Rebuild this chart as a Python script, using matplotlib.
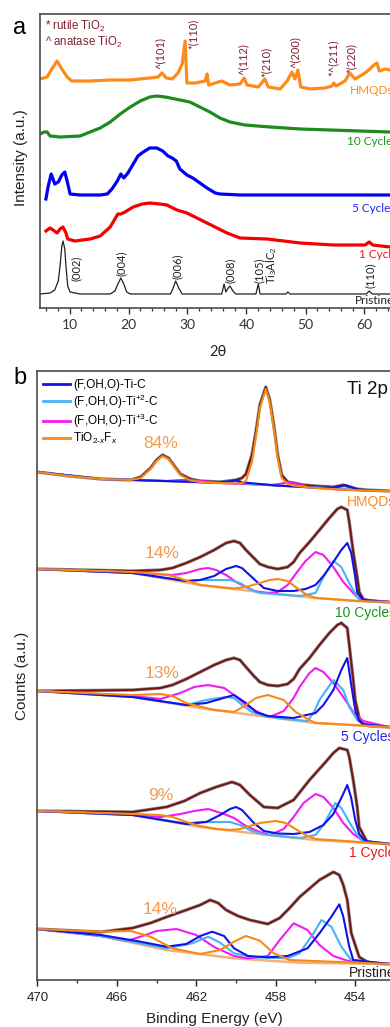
import matplotlib
matplotlib.use("Agg")
import matplotlib.pyplot as plt
from matplotlib.ticker import MultipleLocator, FixedLocator
from matplotlib.lines import Line2D

plt.rcParams['mathtext.fontset'] = 'custom'
plt.rcParams['mathtext.rm'] = 'Liberation Sans'
plt.rcParams['mathtext.it'] = 'Liberation Sans:italic'
plt.rcParams['mathtext.bf'] = 'Liberation Sans:bold'

# ---------------- Panel a: XRD (2theta, intensity a.u.) ----------------
xrd_hmqds_2t = [5.0, 6.2, 7.0, 7.9, 8.7, 9.6, 10.4, 13.5, 16.9, 20.3, 23.6, 25.0, 25.7, 26.4, 27.4,
                28.4, 29.1, 29.6, 29.9, 31.3, 33.0, 33.3, 33.6, 35.8, 37.2, 38.9, 39.6, 40.1, 42.0,
                43.1, 43.7, 45.7, 46.9, 47.7, 48.2, 48.7, 49.2, 50.8, 53.3, 54.5, 54.8, 55.2, 56.7,
                57.5, 58.4, 60.1, 60.9, 61.4, 62.1, 62.5, 63.5, 64.3, 66.0]
xrd_hmqds_int = [229, 231, 239, 247, 239, 231, 227, 227, 228, 228, 230, 231, 235, 230, 229,
                 235, 244, 267, 225, 225, 227, 234, 223, 227, 223, 224, 230, 223, 221,
                 229, 221, 219, 227, 236, 229, 238, 221, 219, 220, 222, 225, 222, 227,
                 235, 229, 235, 239, 242, 245, 237, 239, 238, 237]

xrd_10c_2t = [5.0, 5.7, 6.2, 6.7, 8.4, 11.8, 15.2, 16.9, 18.6, 20.3, 22.0, 23.6, 24.8, 26.2, 27.9,
              30.4, 32.1, 33.8, 35.5, 37.2, 39.7, 44.0, 49.1, 54.2, 59.2, 64.3, 69.4]
xrd_10c_int = [174, 176, 176, 172, 171, 172, 180, 186, 194, 201, 207, 211, 212, 211, 209,
               206, 201, 196, 190, 186, 183, 181, 179, 178, 177, 176, 176]

xrd_5c_2t = [6.0, 6.4, 6.9, 7.2, 7.5, 8.1, 8.7, 9.2, 9.6, 10.1, 11.8, 15.2, 16.4, 17.2, 18.1, 18.7,
             19.2, 19.9, 20.8, 21.6, 22.5, 23.6, 24.8, 25.8, 26.7, 27.4, 28.1, 28.7, 29.9, 30.9,
             32.1, 33.3, 34.7, 35.5, 38.9, 49.1, 64.3, 69.4]
xrd_5c_int = [109, 122, 134, 129, 124, 126, 133, 136, 127, 114, 113, 113, 114, 119, 127, 134,
              130, 135, 144, 152, 156, 160, 160, 157, 152, 150, 147, 139, 133, 130,
              125, 120, 115, 114, 113, 113, 113, 113]

xrd_1c_2t = [6.0, 6.7, 7.2, 7.9, 8.4, 8.9, 9.4, 9.7, 10.9, 13.5, 15.2, 16.9, 18.2, 18.7, 19.4, 20.8,
             22.3, 23.6, 25.3, 26.5, 28.2, 29.9, 31.6, 33.3, 35.0, 36.7, 38.9, 43.5, 49.1, 54.7,
             60.1, 60.8, 61.4, 64.3, 69.4]
xrd_1c_int = [77, 80, 78, 75, 79, 81, 75, 69, 67, 69, 72, 81, 94, 94, 96, 101,
              104, 105, 104, 103, 98, 95, 90, 85, 80, 75, 70, 69, 65, 63,
              63, 66, 63, 61, 60]

xrd_pr_2t = [5.0, 6.7, 7.5, 8.1, 8.4, 8.7, 8.9, 9.2, 9.4, 9.7, 10.1, 11.8, 16.9, 17.7, 18.2, 18.7,
             19.2, 19.7, 20.3, 27.1, 27.5, 28.0, 28.6, 29.1, 35.8, 36.2, 36.5, 36.9, 37.2, 37.7,
             38.2, 41.6, 42.0, 42.3, 46.7, 47.0, 47.4, 60.3, 60.8, 61.3, 69.4]
xrd_pr_int = [14, 15, 18, 27, 42, 62, 67, 59, 42, 22, 16, 14, 14, 17, 24, 30,
              24, 16, 14, 14, 19, 27, 19, 14, 14, 24, 16, 20, 22, 17,
              14, 14, 24, 14, 14, 16, 14, 14, 17, 14, 14]

tio2_peak_labels = ["^(101)", "*(110)", "^(112)", "*(210)", "^(200)", "*^(211)", "*(220)"]
tio2_peak_2t = [25.3, 30.9, 39.4, 43.3, 48.2, 54.7, 57.7]
tio2_peak_int = [239, 259, 233, 231, 240, 232, 235]

max_peak_labels = ["(002)", "(004)", "(006)", "(008)", "(105)", "Ti$_3$AlC$_2$", "(110)"]
max_peak_2t = [11.1, 18.7, 28.2, 37.2, 42.1, 44.2, 60.9]
max_peak_int = [27, 32, 29, 25, 25, 24, 20]

xrd_series_labels = ["HMQDs", "10 Cycles", "5 Cycles", "1 Cycle", "Pristine"]
xrd_label_2t = [57.5, 57.0, 57.9, 59.1, 58.4]
xrd_label_int = [218, 167, 100, 54, 7]

xrd_ticks = [10, 20, 30, 40, 50, 60, 70]

# ---------------- Panel b: XPS Ti 2p (binding energy eV, counts a.u.) ----------------
hmq_env = [(470.0, 508), (468.4, 504), (466.8, 501), (465.3, 500), (464.8, 503), (464.3, 512), (464.0, 520),
           (463.7, 525), (463.4, 522), (463.1, 514), (462.8, 506), (462.3, 501), (461.8, 499), (460.8, 498),
           (460.0, 500), (459.7, 502), (459.5, 506), (459.2, 525), (459.0, 548), (458.8, 575), (458.5, 593),
           (458.3, 580), (458.1, 555), (457.9, 525), (457.7, 505), (457.4, 498), (457.1, 497), (456.6, 495),
           (456.0, 494), (455.1, 493), (454.6, 495), (454.3, 493), (453.9, 491), (453.4, 490), (452.3, 489)]
hmq_bg = [(470.0, 508), (468.4, 504), (466.8, 501), (465.3, 500), (463.8, 499), (462.3, 498), (460.8, 497),
          (459.3, 496), (457.8, 494.5), (456.3, 492.5), (454.8, 490.5), (453.3, 489.3), (452.3, 489)]
hmq_tic = [(470.0, 508), (466.8, 501), (461.2, 497.5), (460.4, 498.5), (460.0, 499.5), (459.6, 497.5),
           (458.0, 494.5), (455.6, 492), (454.9, 493), (454.5, 495), (454.2, 493), (453.8, 490), (452.3, 489)]
hmq_ti2 = [(470.0, 508), (466.8, 501), (461.2, 497.5), (460.6, 498.5), (460.0, 498), (459.5, 496.5),
           (458.0, 494.5), (455.4, 492), (455.0, 493), (454.6, 491.5), (454.2, 490), (452.3, 489)]
hmq_ti3 = [(470.0, 508), (466.8, 501), (463.5, 499), (462.8, 500), (462.2, 500), (461.5, 498.5), (460.8, 497),
           (458.2, 495), (457.7, 496.5), (457.3, 498), (456.9, 496.5), (456.4, 493), (454.8, 490.5), (452.3, 489)]
hmq_tio2 = [(470.0, 508), (468.4, 504), (466.8, 501), (465.3, 500), (464.8, 502), (464.3, 511), (464.0, 519),
            (463.7, 524), (463.4, 521), (463.1, 513), (462.8, 505), (462.3, 499.5), (461.8, 498), (460.8, 497),
            (459.8, 496.5), (459.5, 499), (459.2, 518), (459.0, 543), (458.8, 572), (458.5, 591), (458.3, 578),
            (458.1, 552), (457.9, 522), (457.7, 502), (457.4, 496), (457.1, 494.5), (456.3, 492.5),
            (454.8, 490.5), (453.3, 489.3), (452.3, 489)]

c10_env = [(470.0, 411), (465.2, 409), (463.8, 410), (463.2, 412), (462.5, 417), (461.8, 423), (461.1, 430),
           (460.5, 437), (460.1, 439), (459.8, 437), (459.5, 430), (459.1, 422), (458.8, 416), (458.4, 413),
           (457.9, 411), (457.4, 413), (457.1, 418), (456.8, 427), (456.3, 438), (455.8, 450), (455.3, 462),
           (454.9, 471), (454.7, 473), (454.4, 470), (454.3, 458), (454.1, 428), (453.9, 403), (453.8, 388),
           (453.6, 381), (453.3, 379), (452.3, 378)]
c10_bg = [(470.0, 411), (465.2, 407), (461.8, 395), (458.4, 387), (456.0, 382), (453.9, 379), (452.3, 378)]
c10_tic = [(470.0, 411), (465.2, 407), (462.5, 399), (461.8, 400), (461.1, 404), (460.5, 411), (460.0, 414),
           (459.7, 412), (459.1, 401), (458.6, 392), (457.9, 389), (457.1, 389), (456.5, 391), (456.0, 395),
           (455.6, 404), (455.1, 418), (454.7, 430), (454.4, 437), (454.2, 427), (454.0, 403), (453.9, 387),
           (453.6, 380), (452.3, 378)]
c10_ti2 = [(470.0, 411), (465.2, 407), (462.5, 399), (461.8, 400), (460.3, 400), (459.8, 397), (459.3, 391),
           (458.8, 387), (456.8, 384), (456.0, 387), (455.6, 403), (455.1, 419), (454.7, 413), (454.3, 397),
           (453.9, 383), (453.6, 379), (452.3, 378)]
c10_ti3 = [(470.0, 411), (465.2, 407), (463.2, 405), (462.5, 407), (461.8, 411), (461.4, 412), (461.0, 410),
           (460.5, 405), (460.0, 398), (459.5, 393), (459.0, 388.5), (458.4, 387), (457.9, 388), (457.4, 395),
           (457.0, 406), (456.5, 419), (456.0, 428), (455.6, 425), (455.1, 413), (454.6, 398), (454.1, 387),
           (453.8, 381), (452.3, 378)]
c10_tio2 = [(470.0, 411), (465.2, 408), (463.8, 406), (463.2, 404), (462.5, 399.5), (461.8, 395), (461.1, 393.5),
            (460.1, 391.5), (459.5, 393), (458.8, 397), (458.3, 400), (457.9, 401), (457.4, 399), (457.0, 393),
            (456.5, 386), (456.0, 382), (453.9, 379), (452.3, 378)]

c5_env = [(470.0, 289), (465.2, 290), (463.8, 292), (463.2, 295), (462.5, 301), (461.8, 308), (461.1, 315),
          (460.5, 320), (460.1, 322), (459.8, 320), (459.5, 313), (459.1, 304), (458.8, 298), (458.4, 295),
          (457.9, 294), (457.4, 296), (457.1, 301), (456.8, 311), (456.3, 322), (455.8, 335), (455.3, 347),
          (454.9, 355), (454.7, 357), (454.4, 352), (454.3, 335), (454.1, 300), (454.0, 280), (453.8, 262),
          (453.6, 256), (453.3, 254), (452.3, 253)]
c5_bg = [(470.0, 289), (465.2, 283), (461.8, 272), (458.4, 263), (456.0, 257), (452.3, 253)]
c5_tic = [(470.0, 289), (465.2, 283), (462.5, 275), (461.5, 277), (460.8, 281), (460.1, 285), (459.5, 277),
          (459.0, 268), (458.4, 264), (457.1, 262), (456.0, 267), (455.6, 275), (455.1, 290), (454.7, 310),
          (454.4, 322), (454.2, 295), (454.0, 270), (453.8, 259), (453.6, 256), (452.3, 253)]
c5_ti2 = [(470.0, 289), (465.2, 283), (462.5, 275), (461.5, 280), (460.5, 283), (460.1, 282), (459.7, 275),
          (459.2, 268), (458.6, 264), (457.5, 261), (456.4, 259), (456.1, 267), (455.8, 280), (455.1, 300),
          (454.6, 290), (454.3, 273), (453.9, 260), (453.6, 256), (452.3, 253)]
c5_ti3 = [(470.0, 289), (465.2, 284), (463.8, 281), (462.8, 287), (462.1, 293), (461.4, 295), (460.6, 292),
          (460.1, 285), (459.5, 275), (458.8, 267), (458.3, 263), (457.6, 269), (457.1, 282), (456.8, 293),
          (456.3, 307), (456.0, 312), (455.6, 308), (455.1, 297), (454.6, 283), (454.1, 268), (453.6, 259),
          (452.3, 253)]
c5_tio2 = [(470.0, 289), (465.2, 285), (463.8, 286), (463.2, 284), (462.5, 277), (461.1, 270), (460.1, 268),
           (459.5, 275), (459.0, 282), (458.4, 285), (457.6, 280), (457.0, 268), (456.3, 260), (456.0, 257),
           (452.3, 253)]

c1_env = [(470.0, 169), (465.2, 168), (463.5, 173), (462.6, 179), (461.8, 187), (461.0, 193), (460.2, 198),
          (459.8, 195), (459.3, 185), (458.6, 173), (457.9, 172), (457.1, 180), (456.3, 200), (455.4, 220),
          (455.1, 227), (454.8, 232), (454.4, 230), (454.3, 223), (454.1, 200), (453.9, 173), (453.8, 153),
          (453.4, 138), (452.3, 136)]
c1_bg = [(470.0, 169), (465.2, 165), (461.8, 153), (458.4, 145), (456.0, 140), (452.3, 136)]
c1_tic = [(470.0, 169), (465.2, 165), (462.5, 156), (461.5, 158), (460.8, 165), (460.3, 171), (460.0, 173),
          (459.7, 170), (459.1, 157), (458.6, 149), (457.9, 146.5), (457.1, 146), (456.3, 148), (455.6, 155),
          (455.1, 166), (454.7, 182), (454.4, 195), (454.2, 182), (454.0, 160), (453.8, 146), (453.5, 139),
          (452.3, 136)]
c1_ti2 = [(470.0, 169), (465.2, 165), (462.5, 156.5), (461.8, 158), (460.3, 158), (459.8, 155), (459.2, 149),
          (458.6, 145.5), (456.8, 142), (456.0, 145), (455.6, 155), (455.0, 177), (454.7, 172), (454.3, 158),
          (453.9, 145), (453.6, 139), (452.3, 136)]
c1_ti3 = [(470.0, 169), (465.2, 165), (463.8, 163), (462.8, 166), (462.1, 169), (461.4, 171), (460.6, 166),
          (460.1, 162), (459.5, 154), (458.8, 148), (458.3, 145), (457.6, 151), (457.1, 163), (456.6, 177),
          (456.0, 186), (455.6, 183), (455.1, 172), (454.6, 157), (454.1, 146), (453.6, 139), (452.3, 136)]
c1_tio2 = [(470.0, 169), (465.2, 166), (463.8, 165), (463.2, 163), (462.5, 158), (461.8, 154), (461.0, 151),
           (460.3, 150), (459.8, 151), (459.3, 154), (458.8, 157), (458.0, 159), (457.5, 157), (457.0, 151),
           (456.5, 145), (456.0, 141), (452.3, 136)]

pr_env = [(470.0, 51), (466.8, 48), (465.2, 52), (464.3, 57), (463.5, 63), (462.5, 70), (461.8, 75),
          (461.3, 80), (460.9, 77), (460.5, 70), (459.9, 64), (459.3, 60), (458.4, 56), (457.8, 62),
          (457.3, 72), (456.8, 83), (455.8, 100), (455.1, 108), (454.8, 105), (454.6, 95), (454.4, 80),
          (454.2, 47), (453.8, 23), (453.3, 17), (452.3, 16)]
pr_bg = [(470.0, 51), (466.8, 44), (463.5, 30), (460.1, 21.7), (456.8, 17.3), (452.3, 16)]
pr_tic = [(470.0, 51), (466.8, 45), (465.0, 39), (463.5, 33.3), (462.5, 36), (461.8, 44), (461.2, 48.3),
          (460.6, 44), (460.1, 31.7), (459.4, 24), (458.4, 22.7), (457.4, 24), (456.4, 31.7), (455.8, 46.7),
          (455.2, 63.3), (454.8, 75.7), (454.6, 63.3), (454.3, 33.3), (454.1, 20), (452.3, 16)]
pr_ti2 = [(470.0, 51), (466.8, 44), (463.5, 31.7), (462.2, 36.7), (461.4, 43.3), (460.8, 37.3), (460.1, 26.7),
          (459.1, 22.7), (457.4, 21.7), (456.8, 26.7), (456.1, 46.7), (455.7, 60), (455.2, 53.3),
          (454.7, 33.3), (454.2, 20), (452.3, 16)]
pr_ti3 = [(470.0, 51), (466.8, 44), (465.5, 39), (464.7, 44), (464.0, 49), (463.0, 51), (462.0, 45),
          (461.1, 33), (460.1, 24), (459.4, 21.5), (458.4, 24), (457.8, 40), (457.1, 56.7), (456.4, 50),
          (455.8, 35), (455.1, 24), (454.4, 19.3), (452.3, 16)]
pr_tio2 = [(470.0, 51), (466.8, 48.3), (465.3, 49), (464.3, 43.3), (463.2, 31.7), (461.8, 26), (460.8, 30),
           (460.1, 38.3), (459.5, 44), (458.8, 39.3), (458.1, 26.7), (457.3, 20), (452.3, 16)]

tio2_percent_labels = ["84%", "14%", "13%", "9%", "14%"]
tio2_percent_be = [463.8, 463.7, 463.7, 463.8, 463.8]
tio2_percent_counts = [537, 426, 307, 185, 71]

xps_series_labels = ["HMQDs", "10 Cycles", "5 Cycles", "1 Cycle", "Pristine"]
xps_label_be = [454.4, 455.0, 454.7, 454.3, 454.3]
xps_label_counts = [478, 367, 243, 127, 7]

xps_major_ticks = [470, 466, 462, 458, 454, 450]
xps_minor_ticks = [468, 464, 460, 456, 452]

component_labels = ["(F,OH,O)-Ti-C", "(F,OH,O)-Ti$^{+2}$-C", "(F,OH,O)-Ti$^{+3}$-C", "TiO$_{2\u2010x}$F$_x$"]

# ---------------- styling ----------------
W, H = 390, 1027
fig = plt.figure(figsize=(W / 100, H / 100), dpi=100)
fig.patch.set_facecolor('white')

series_colors = ["#FF8A1C", "#1E8B1E", "#0000F5", "#F50000", "#303030"]
label_colors = ["#FF8A1C", "#1A961A", "#2323EE", "#F01515", "#202020"]
tio2_lbl_color = "#7E1F2E"
C_TIC, C_TI2, C_TI3, C_TIO2 = "#1212E6", "#45B4F5", "#F21AF2", "#F58A14"
C_ENV, C_BG, C_DATA = "#7A1010", "#F4B27A", "#5A5A5A"
C_PCT = "#F39A52"

# Panel a
axa = fig.add_axes([40 / W, (H - 308) / H, 383.5 / W, 294 / H])
xrd_sets = [(xrd_hmqds_2t, xrd_hmqds_int), (xrd_10c_2t, xrd_10c_int), (xrd_5c_2t, xrd_5c_int),
            (xrd_1c_2t, xrd_1c_int)]
for (xx, yy), col in zip(xrd_sets, series_colors[:4]):
    axa.plot(xx, yy, color=col, lw=2.3, solid_joinstyle='round')
axa.plot(xrd_pr_2t, xrd_pr_int, color="#202020", lw=0.9)
axa.set_xlim(5, 70)
axa.set_ylim(0, 294)
axa.set_yticks([])
axa.xaxis.set_major_locator(FixedLocator(xrd_ticks))
axa.xaxis.set_minor_locator(MultipleLocator(2))
axa.tick_params(axis='x', which='major', direction='out', length=4, width=1, pad=4, labelsize=10, colors='#333333')
axa.tick_params(axis='x', which='minor', direction='out', length=2.5, width=0.9, colors='#333333')
for lab in axa.get_xticklabels():
    lab.set_fontfamily('Lato')
for s in ['left', 'bottom', 'top', 'right']:
    axa.spines[s].set_color('#4A4A4A')
    axa.spines[s].set_linewidth(1.2)
axa.set_xlabel("2\u03b8", fontsize=10.5, fontfamily='Lato', color='#222222')
axa.xaxis.set_label_coords((218 - 40) / 383.5, -0.125)
axa.set_ylabel("Intensity (a.u.)", fontsize=11, fontfamily='Liberation Sans', color='#222222')
axa.yaxis.set_label_coords(-0.03, 0.51)

axa.text(5.85, 282, "* rutile TiO$_2$", fontsize=8.3, fontfamily='Liberation Sans', color=tio2_lbl_color,
         ha='left', va='center')
axa.text(5.85, 266, "^ anatase TiO$_2$", fontsize=8.3, fontfamily='Liberation Sans', color=tio2_lbl_color,
         ha='left', va='center')
for t, x, y in zip(tio2_peak_labels, tio2_peak_2t, tio2_peak_int):
    axa.text(x, y, t, rotation=90, ha='center', va='bottom', fontsize=8, fontfamily='Lato',
             color=tio2_lbl_color)
for t, x, y in zip(max_peak_labels, max_peak_2t, max_peak_int):
    axa.text(x, y, t, rotation=90, ha='center', va='bottom', fontsize=8, fontfamily='Lato', color='#202020')
for t, x, y, c in zip(xrd_series_labels, xrd_label_2t, xrd_label_int, label_colors):
    axa.text(x, y, t, ha='left', va='center', fontsize=8.5, fontfamily='Lato', color=c)

# Panel b
axb = fig.add_axes([37.3 / W, (H - 980) / H, 397.4 / W, 609 / H])
spectra = [
    (hmq_env, hmq_bg, hmq_tic, hmq_ti2, hmq_ti3, hmq_tio2),
    (c10_env, c10_bg, c10_tic, c10_ti2, c10_ti3, c10_tio2),
    (c5_env, c5_bg, c5_tic, c5_ti2, c5_ti3, c5_tio2),
    (c1_env, c1_bg, c1_tic, c1_ti2, c1_ti3, c1_tio2),
    (pr_env, pr_bg, pr_tic, pr_ti2, pr_ti3, pr_tio2),
]
for env, bg, tic, ti2, ti3, tio2 in spectra:
    ex, ey = zip(*env)
    axb.plot(ex, ey, color=C_DATA, lw=2.4, alpha=0.75)
    axb.plot(ex, ey, color=C_ENV, lw=1.3)
    bx, by = zip(*bg)
    axb.plot(bx, by, color=C_BG, lw=1.8)
    for comp, col in [(ti3, C_TI3), (ti2, C_TI2), (tic, C_TIC), (tio2, C_TIO2)]:
        cx, cy = zip(*comp)
        axb.plot(cx, cy, color=col, lw=1.5, solid_joinstyle='round')

axb.set_xlim(470, 450)
axb.set_ylim(0, 609)
axb.set_yticks([])
axb.xaxis.set_major_locator(FixedLocator(xps_major_ticks))
axb.xaxis.set_minor_locator(FixedLocator(xps_minor_ticks))
axb.tick_params(axis='x', which='major', direction='out', length=4, width=1, pad=4.5, labelsize=9.5, colors='#222222')
axb.tick_params(axis='x', which='minor', direction='out', length=2.5, width=0.9, colors='#222222')
for lab in axb.get_xticklabels():
    lab.set_fontfamily('Liberation Sans')
for s in ['left', 'bottom', 'top', 'right']:
    axb.spines[s].set_color('#4A4A4A')
    axb.spines[s].set_linewidth(1.2)
axb.set_xlabel("Binding Energy (eV)", fontsize=11, fontfamily='Liberation Sans', color='#222222')
axb.xaxis.set_label_coords((214 - 37.3) / 397.4, -0.052)
axb.set_ylabel("Counts (a.u.)", fontsize=11, fontfamily='Liberation Sans', color='#222222')
axb.yaxis.set_label_coords(-0.02, 0.5)

for t, x, y in zip(tio2_percent_labels, tio2_percent_be, tio2_percent_counts):
    axb.text(x, y, t, ha='center', va='center', fontsize=12.5, fontfamily='Liberation Sans', color=C_PCT)
for t, x, y, c in zip(xps_series_labels, xps_label_be, xps_label_counts, label_colors):
    axb.text(x, y, t, ha='left', va='center', fontsize=10, fontfamily='Liberation Sans', color=c)
axb.text(454.4, 590, "Ti 2p", ha='left', va='center', fontsize=13.5, fontfamily='Liberation Sans', color='#111111')

handles = [Line2D([], [], color=c, lw=2) for c in [C_TIC, C_TI2, C_TI3, C_TIO2]]
leg = axb.legend(handles, component_labels, loc='upper left', bbox_to_anchor=(0.008, 0.99), frameon=False,
                 prop={'family': 'Liberation Sans', 'size': 8.5}, handlelength=2.3, handletextpad=0.25,
                 labelspacing=0.08, borderpad=0.2, borderaxespad=0)

fig.text(20 / W, 1 - 28 / H, "a", fontsize=17, fontfamily='Liberation Sans', ha='center', va='center')
fig.text(20 / W, 1 - 378 / H, "b", fontsize=17, fontfamily='Liberation Sans', ha='center', va='center')

fig.savefig("out.png", dpi=100, facecolor='white')
